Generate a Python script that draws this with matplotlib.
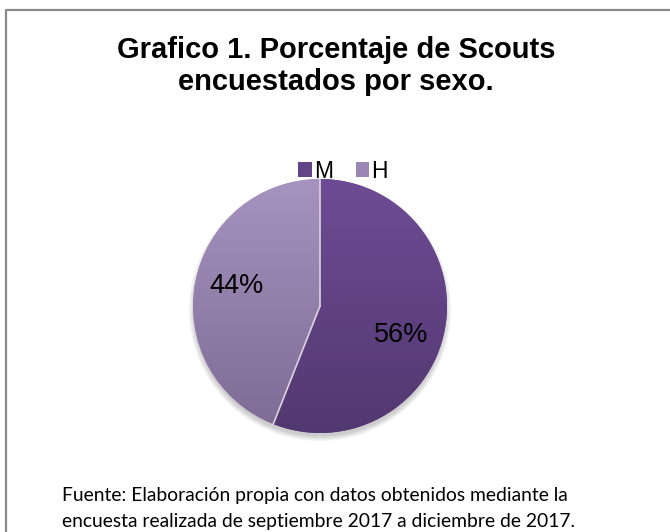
import numpy as np
import matplotlib
matplotlib.use("Agg")
import matplotlib.pyplot as plt
from matplotlib.patches import Patch, Circle
from matplotlib.lines import Line2D
from matplotlib.colors import LinearSegmentedColormap

# Data
categories = ["M", "H"]
values = [56, 44]
labels = ["56%", "44%"]
title = "Grafico 1. Porcentaje de Scouts\nencuestados por sexo."
footer = ["Fuente: Elaboración propia con datos obtenidos mediante la",
          "encuesta realizada de septiembre 2017 a diciembre de 2017."]

W, H = 670, 532
top_cols = ["#6e4c95", "#a693c0"]
bot_cols = ["#523870", "#7d6b94"]
legend_cols = ["#634587", "#9a87b4"]

fig = plt.figure(figsize=(W / 100, H / 100), dpi=100)
ax = fig.add_axes([0, 0, 1, 1])

# frame (top & left visible)
ax.add_line(Line2D([5.5, 5.5, W + 5], [-5, H - 9.5, H - 9.5], color="#8a8a8a", lw=1.6, zorder=1))

cx, cy, r = 320, H - 306, 127

# soft shadow
for i, a in enumerate([0.05, 0.05, 0.05, 0.06]):
    ax.add_patch(Circle((cx, cy - 4), r + 4 - i * 1.5, color="black", alpha=a, lw=0, zorder=2))

wedges, _ = ax.pie(values, center=(cx, cy), radius=r, startangle=90, counterclock=False,
                   colors=top_cols, wedgeprops=dict(edgecolor="none", linewidth=0),
                   frame=True)

for w, tc, bc in zip(wedges, top_cols, bot_cols):
    cmap = LinearSegmentedColormap.from_list("g", [bc, tc])
    grad = np.linspace(0, 1, 256).reshape(-1, 1)
    im = ax.imshow(grad, cmap=cmap, origin="lower", extent=[cx - r, cx + r, cy - r, cy + r],
                   aspect="auto", zorder=3)
    im.set_clip_path(w)
    w.set_zorder(2.5)

# separators
for w in wedges:
    th = np.deg2rad(w.theta1)
    ax.plot([cx, cx + r * np.cos(th)], [cy, cy + r * np.sin(th)], color="#d9d4df", lw=1.2, zorder=4)

ax.set_xlim(0, W)
ax.set_ylim(0, H)
ax.set_aspect("equal")
ax.axis("off")

# labels
ax.text(401, H - 335, labels[0], fontsize=19.5, family="Liberation Sans", ha="center", va="center", color="black", zorder=5)
ax.text(237, H - 286, labels[1], fontsize=19.5, family="Liberation Sans", ha="center", va="center", color="black", zorder=5)

# title
fig.text(336 / W, 1 - 66 / H, title, fontsize=21, fontweight="bold", family="Liberation Sans",
         ha="center", va="center", linespacing=1.2)

# legend
handles = [Patch(facecolor=c, edgecolor="none") for c in legend_cols]
leg = fig.legend(handles, categories, loc="center", bbox_to_anchor=(343 / W, 1 - 171 / H), ncol=2,
                 frameon=False, prop={"family": "Liberation Sans", "size": 16.5},
                 handlelength=0.58, handleheight=0.58, handletextpad=0.1, columnspacing=1.0)

# footer
fig.text(62 / W, 1 - 496 / H, footer[0], fontsize=13.9, family="Lato", ha="left", va="center")
fig.text(62 / W, 1 - 522 / H, footer[1], fontsize=13.9, family="Lato", ha="left", va="center")

fig.savefig("out.png", dpi=100)
